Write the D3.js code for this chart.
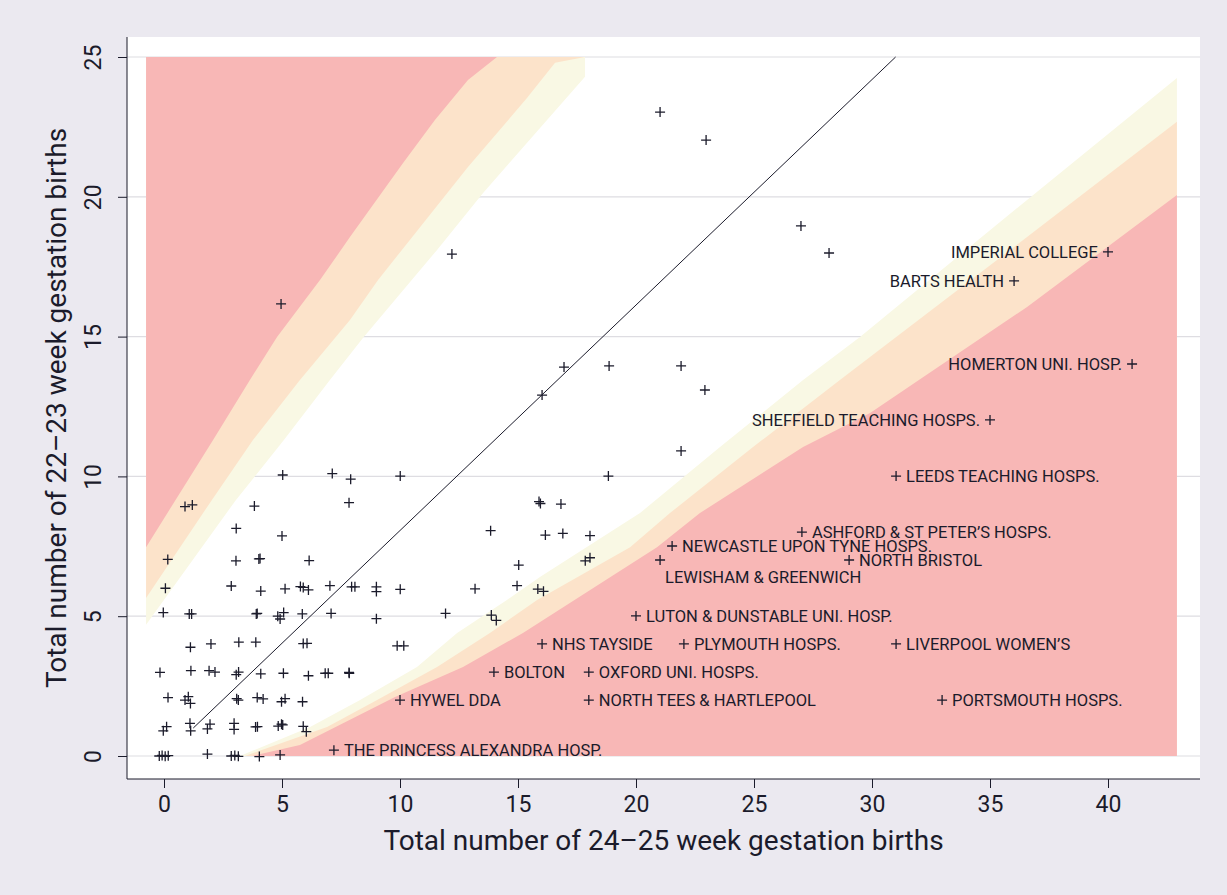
<!DOCTYPE html>
<html>
<head>
<meta charset="utf-8">
<script src="https://cdn.jsdelivr.net/npm/d3@7"></script>
<style>
  html, body { margin: 0; padding: 0; background: #ebe9f0; }
  svg { display: block; font-family: Roboto, "Noto Sans", sans-serif; }
</style>
</head>
<body>
<svg id="chart" width="1227" height="895"></svg>
<script>
// ---------- DATA ----------
const xTicks = [0, 5, 10, 15, 20, 25, 30, 35, 40];
const yTicks = [0, 5, 10, 15, 20, 25];
const xTitle = "Total number of 24\u201325 week gestation births";
const yTitle = "Total number of 22\u201323 week gestation births";

// Unlabelled hospitals: [24-25 wk births, 22-23 wk births] (jittered as plotted)
const hospitals = [
  [-0.2,0.0],[-0.08,0.02],[0.05,-0.01],[0.18,0.01],[1.84,0.07],[2.85,0.0],[3.0,0.02],[3.15,-0.01],[4.04,-0.02],[4.92,0.04],
  [-0.03,0.9],[0.11,1.05],[1.1,1.17],[1.13,0.9],[1.84,0.97],[1.95,1.14],[2.97,1.17],[2.97,0.95],[3.88,1.04],[3.96,1.05],[4.84,1.07],[4.98,1.14],[5.03,1.11],[5.9,1.06],[6.03,0.87],
  [0.17,2.09],[0.89,2.0],[1.03,2.12],[1.12,1.88],[3.08,2.05],[3.15,2.0],[3.95,2.09],[4.2,2.04],[4.98,1.94],[5.13,2.05],[5.87,1.94],
  [-0.17,2.99],[1.14,3.05],[1.91,3.05],[2.16,3.0],[3.06,2.91],[3.16,3.0],[4.1,2.94],[5.06,2.96],[6.12,2.87],[6.83,2.96],[6.96,2.96],[7.84,2.99],[7.85,2.96],
  [1.12,3.89],[1.99,4.01],[3.17,4.07],[3.89,4.07],[5.9,4.02],[6.06,4.03],[9.88,3.94],[10.16,3.94],
  [-0.03,5.13],[1.07,5.08],[1.17,5.08],[3.91,5.08],[3.95,5.1],[4.82,5.0],[4.92,4.9],[5.07,5.13],[5.86,5.08],[7.08,5.1],[9.0,4.91],[11.93,5.1],[13.87,5.04],[14.08,4.85],
  [0.06,6.0],[2.85,6.08],[4.1,5.9],[5.13,5.98],[5.78,6.06],[5.9,6.03],[6.12,5.94],[7.03,6.09],[7.95,6.05],[8.09,6.05],[9.0,6.05],[9.0,5.88],[10.01,5.96],[13.18,5.98],[14.96,6.09],[15.84,5.97],[16.08,5.89],
  [0.16,7.03],[3.05,6.98],[4.02,7.05],[4.07,7.06],[6.15,6.99],[15.03,6.83],[17.85,6.98],[18.05,7.09],
  [3.06,8.14],[5.0,7.87],[13.84,8.06],[16.16,7.9],[16.9,7.96],[18.05,7.88],
  [0.89,8.92],[1.2,8.98],[3.83,8.94],[7.84,9.06],[15.89,9.1],[15.95,9.03],[16.82,9.01],
  [5.03,10.05],[7.13,10.1],[7.91,9.9],[10.01,10.01],[18.83,10.01],[21.91,10.91],
  [16.02,12.91],[22.92,13.09],[16.95,13.91],[18.86,13.95],[21.91,13.95],[4.96,16.17],[12.2,17.95],[26.99,18.96],[28.18,17.99],[21.02,23.03],[22.97,22.03]
];

// Labelled hospitals: name, x, y, label side
const labelled = [
  ["IMPERIAL COLLEGE", 40.0, 18.03, "left"],
  ["BARTS HEALTH", 36.02, 16.99, "left"],
  ["HOMERTON UNI. HOSP.", 41.02, 14.02, "left"],
  ["SHEFFIELD TEACHING HOSPS.", 35.0, 12.02, "left"],
  ["LEEDS TEACHING HOSPS.", 31.02, 10.01, "right"],
  ["ASHFORD & ST PETER\u2019S HOSPS.", 27.03, 8.01, "right"],
  ["NEWCASTLE UPON TYNE HOSPS.", 21.53, 7.51, "right"],
  ["NORTH BRISTOL", 29.03, 7.01, "right"],
  ["LEWISHAM & GREENWICH", 21.02, 7.01, "below"],
  ["LUTON & DUNSTABLE UNI. HOSP.", 20.0, 5.01, "right"],
  ["NHS TAYSIDE", 16.02, 4.01, "right"],
  ["PLYMOUTH HOSPS.", 22.03, 4.01, "right"],
  ["LIVERPOOL WOMEN\u2019S", 31.02, 4.01, "right"],
  ["BOLTON", 13.98, 3.0, "right"],
  ["OXFORD UNI. HOSPS.", 18.0, 3.0, "right"],
  ["HYWEL DDA", 10.0, 2.0, "right"],
  ["NORTH TEES & HARTLEPOOL", 18.0, 2.0, "right"],
  ["PORTSMOUTH HOSPS.", 32.97, 2.0, "right"],
  ["THE PRINCESS ALEXANDRA HOSP.", 7.2, 0.21, "right"]
];

// Expected-ratio reference line endpoints
const refLine = [[1.24, 1.0], [31.0, 25.0]];

// Control limit boundaries (upper-left: excess of 22-23 wk births)
const ulOuter = [[-0.76,4.69],[3.05,9.16],[5.08,11.30],[7.03,13.45],[8.43,14.95],[11.57,18.10],[13.52,20.14],[17.84,24.29],[17.84,25.0]];
const ulMiddle = [[-0.76,5.65],[2.03,9.16],[3.77,11.30],[5.76,13.45],[7.88,15.59],[9.07,17.02],[10.08,18.10],[12.88,21.07],[15.38,23.53],[16.57,24.79],[17.84,25.0]];
const ulInner = [[-0.76,7.47],[2.08,11.30],[3.64,13.45],[4.79,14.99],[6.61,17.02],[7.88,18.56],[10.13,21.21],[11.48,22.75],[12.88,24.18],[14.11,25.0]];
// lower-right: deficit of 22-23 wk births
const lrOuter = [[3.22,0],[6.19,1.04],[8.31,2.0],[10.72,3.18],[12.42,4.40],[14.53,5.58],[15.93,6.40],[20.17,8.69],[23.56,11.05],[27.08,13.45],[29.49,14.99],[36.57,19.89],[42.92,24.25]];
const lrMiddle = [[3.43,0],[6.91,1.04],[9.03,2.0],[11.57,3.18],[13.81,4.40],[15.81,5.58],[19.75,7.47],[21.44,8.69],[24.96,11.05],[28.64,13.45],[36.57,18.56],[42.92,22.68]];
const lrInner = [[3.73,0],[5.76,0.39],[9.79,2.11],[12.67,3.18],[15.21,4.40],[20.89,7.47],[22.71,8.69],[27.08,11.05],[29.92,12.27],[36.57,16.06],[42.92,20.06]];
const bandEdges = { left: -0.76, right: 42.92, top: 25, bottom: 0 };
const bandColors = ["#f9f8e4", "#fce3ca", "#f8b7b6"];

// ---------- LAYOUT ----------
const W = 1227, H = 895;
const plot = { left: 127, top: 37, right: 1200, bottom: 779 };
const ink = "#1b1b2b";

const svg = d3.select("#chart");
svg.append("rect").attr("width", W).attr("height", H).attr("fill", "#ebe9f0");
svg.append("rect")
  .attr("x", plot.left).attr("y", plot.top)
  .attr("width", plot.right - plot.left).attr("height", plot.bottom - plot.top)
  .attr("fill", "#ffffff");

const x = d3.scaleLinear().domain([0, 40]).range([164, 1108]);
const y = d3.scaleLinear().domain([0, 25]).range([756, 57]);

// gridlines
svg.append("g").selectAll("line").data(yTicks).join("line")
  .attr("x1", plot.left).attr("x2", plot.right)
  .attr("y1", d => y(d)).attr("y2", d => y(d))
  .attr("stroke", "#dedde2").attr("stroke-width", 1.2);

// bands
const line = d3.line().x(d => x(d[0])).y(d => y(d[1]));
function ulPoly(b) {
  const pts = b.slice();
  pts.push([bandEdges.left, bandEdges.top]);
  return line(pts) + "Z";
}
function lrPoly(b) {
  const pts = b.slice();
  pts.push([bandEdges.right, bandEdges.bottom]);
  return line(pts) + "Z";
}
const gb = svg.append("g");
[ulOuter, ulMiddle, ulInner].forEach((b, i) => {
  gb.append("path").attr("d", ulPoly(b)).attr("fill", bandColors[i]);
});
[lrOuter, lrMiddle, lrInner].forEach((b, i) => {
  gb.append("path").attr("d", lrPoly(b)).attr("fill", bandColors[i]);
});

// reference line
svg.append("path").attr("d", line(refLine))
  .attr("fill", "none").attr("stroke", ink).attr("stroke-width", 1);

// markers
const plusPath = "M-5,0H5M0,-5V5";
const allPts = hospitals.concat(labelled.map(d => [d[1], d[2]]));
svg.append("g").selectAll("path").data(allPts).join("path")
  .attr("d", plusPath)
  .attr("transform", d => `translate(${x(d[0])},${y(d[1])})`)
  .attr("fill", "none").attr("stroke", ink).attr("stroke-width", 1.3);

// labels
svg.append("g").selectAll("text").data(labelled).join("text")
  .attr("x", d => x(d[1]) + (d[3] === "left" ? -10 : d[3] === "right" ? 10 : 5))
  .attr("y", d => y(d[2]) + (d[3] === "below" ? 17 : 0))
  .attr("dy", "0.36em")
  .attr("text-anchor", d => d[3] === "left" ? "end" : "start")
  .attr("font-size", 16.5)
  .attr("fill", ink)
  .text(d => d[0]);

// axes lines
svg.append("line").attr("x1", plot.left).attr("x2", plot.left)
  .attr("y1", plot.top).attr("y2", plot.bottom).attr("stroke", ink).attr("stroke-width", 1);
svg.append("line").attr("x1", plot.left).attr("x2", plot.right)
  .attr("y1", plot.bottom).attr("y2", plot.bottom).attr("stroke", ink).attr("stroke-width", 1);

// x axis
const xa = svg.append("g").attr("transform", `translate(0,${plot.bottom})`)
  .call(d3.axisBottom(x).tickValues(xTicks).tickSize(9).tickPadding(8));
xa.select(".domain").remove();
xa.selectAll("line").attr("stroke", ink);
xa.selectAll("text").attr("font-size", 23).attr("fill", ink).attr("font-family", "Roboto");

// y axis
const ya = svg.append("g").attr("transform", `translate(${plot.left},0)`)
  .call(d3.axisLeft(y).tickValues(yTicks).tickSize(9).tickPadding(0));
ya.select(".domain").remove();
ya.selectAll("line").attr("stroke", ink);
ya.selectAll("text")
  .attr("x", 0).attr("dy", 0)
  .attr("transform", "translate(-26,0) rotate(-90)")
  .attr("text-anchor", "middle")
  .attr("font-size", 23).attr("fill", ink).attr("font-family", "Roboto");

// titles
svg.append("text")
  .attr("x", (plot.left + plot.right) / 2).attr("y", 850)
  .attr("text-anchor", "middle").attr("font-size", 28).attr("fill", ink)
  .text(xTitle);
svg.append("text")
  .attr("transform", `translate(66,${(plot.top + plot.bottom) / 2}) rotate(-90)`)
  .attr("text-anchor", "middle").attr("font-size", 28).attr("fill", ink)
  .text(yTitle);
</script>
</body>
</html>
